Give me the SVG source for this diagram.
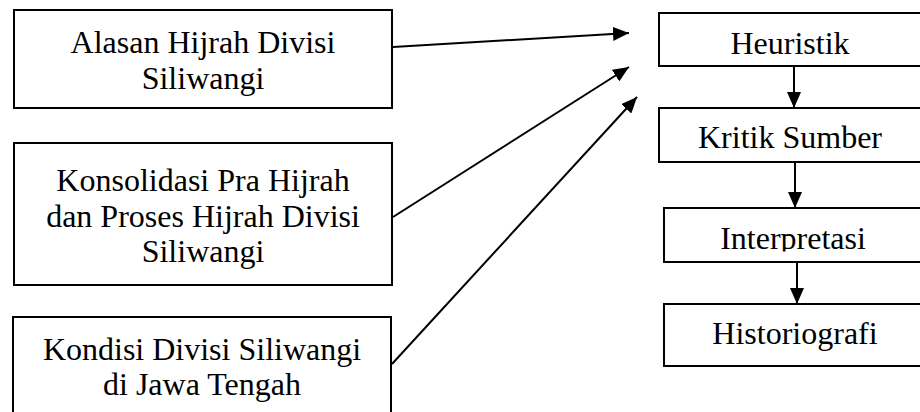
<svg xmlns="http://www.w3.org/2000/svg" width="920" height="412" viewBox="0 0 920 412">
<style>
.box{fill:#fff;stroke:#000;stroke-width:2}
.t{font-family:'Liberation Serif','Times New Roman',Times,serif;font-size:32px;fill:#000;text-anchor:middle}
.c{stroke:#000;stroke-width:2;fill:none}
</style>
<defs>
<marker id="ah" markerUnits="userSpaceOnUse" markerWidth="16" markerHeight="14" refX="16" refY="7" orient="auto">
<path d="M0,0 L16,7 L0,14 Z" fill="#000"/>
</marker>
<clipPath id="clipInt"><rect x="660" y="200" width="270" height="51.5"/></clipPath>
</defs>
<rect width="920" height="412" fill="#fff"/>
<g id="alasan">
<rect class="box" x="14" y="10" width="378" height="98"/>
<text class="t" x="203" y="53">Alasan Hijrah Divisi</text>
<text class="t" x="203" y="89">Siliwangi</text>
</g>
<g id="konsolidasi">
<rect class="box" x="14" y="143" width="378" height="142"/>
<text class="t" x="203" y="191">Konsolidasi Pra Hijrah</text>
<text class="t" x="203" y="227">dan Proses Hijrah Divisi</text>
<text class="t" x="203" y="262">Siliwangi</text>
</g>
<g id="kondisi">
<rect class="box" x="13" y="317" width="378" height="110"/>
<text class="t" x="202" y="360">Kondisi Divisi Siliwangi</text>
<text class="t" x="202" y="395">di Jawa Tengah</text>
</g>
<g id="heuristik">
<rect class="box" x="659" y="13" width="270" height="53"/>
<text class="t" x="790" y="54">Heuristik</text>
</g>
<g id="kritik">
<rect class="box" x="659" y="108" width="270" height="54"/>
<text class="t" x="790" y="148">Kritik Sumber</text>
</g>
<g id="interpretasi">
<rect class="box" x="664" y="208" width="270" height="54"/>
<text class="t" x="793" y="249" clip-path="url(#clipInt)">Interpretasi</text>
</g>
<g id="historiografi">
<rect class="box" x="664" y="304" width="270" height="62"/>
<text class="t" x="795" y="344">Historiografi</text>
</g>
<g id="connectors">
<line class="c" x1="393" y1="47" x2="629" y2="33" marker-end="url(#ah)"/>
<line class="c" x1="393" y1="217" x2="629" y2="67" marker-end="url(#ah)"/>
<line class="c" x1="392" y1="364" x2="637" y2="97" marker-end="url(#ah)"/>
<line class="c" x1="794" y1="66" x2="794" y2="108" marker-end="url(#ah)"/>
<line class="c" x1="795" y1="162" x2="795" y2="208" marker-end="url(#ah)"/>
<line class="c" x1="797" y1="262" x2="797" y2="304" marker-end="url(#ah)"/>
</g>
</svg>
